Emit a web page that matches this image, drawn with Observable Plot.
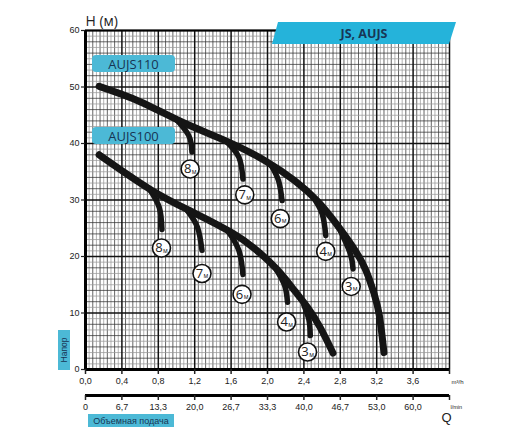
<!DOCTYPE html>
<html>
<head>
<meta charset="utf-8">
<script src="https://cdn.jsdelivr.net/npm/d3@7"></script>
<script src="https://cdn.jsdelivr.net/npm/@observablehq/plot@0.6"></script>
<style>
  body { margin: 0; background: #fff; }
  #wrap { position: relative; width: 512px; height: 441px; }
  .tag {
    position: absolute; background: #4cb9d6; color: #173453;
    font-family: "Open Sans", sans-serif; display: flex;
    align-items: center; justify-content: center; white-space: nowrap;
  }
</style>
</head>
<body>
<div id="wrap">
  <div id="chart"></div>
  <div class="tag" id="banner" style="left:272px;top:22px;width:184px;height:22px;background:#25b3da;clip-path:polygon(6px 0,100% 0,calc(100% - 7px) 100%,0 100%);font-weight:700;font-size:12.5px;color:#183655;">JS, AUJS</div>
  <div class="tag" style="left:92px;top:55px;width:83px;height:17px;border-radius:4px;font-size:13px;">AUJS110</div>
  <div class="tag" style="left:92px;top:127px;width:83px;height:17px;border-radius:4px;font-size:13px;">AUJS100</div>
  <div class="tag" style="left:88px;top:414px;width:86px;height:13px;font-size:9px;font-family:'Liberation Sans',sans-serif;">Объемная подача</div>
  <div class="tag" style="left:58px;top:330px;width:12px;height:40px;font-size:8.5px;font-family:'Liberation Sans',sans-serif;"><span style="transform:rotate(-90deg);display:inline-block;">Напор</span></div>
</div>
<script>
// main curves Q (m3/h) / H (m)
const q110 = [0.15, 0.6, 1.06, 1.58, 2.0, 2.3, 2.55, 2.75, 2.95, 3.08, 3.17, 3.23, 3.28];
const h110 = [50.1, 47.4, 43.8, 40.2, 36.7, 33.4, 29.8, 25.9, 21.4, 17.6, 13.5, 9.5, 3.0];
const q100 = [0.15, 0.73, 1.21, 1.61, 1.85, 2.1, 2.3, 2.44, 2.58, 2.72];
const h100 = [38.0, 31.7, 27.6, 24.2, 21.5, 17.8, 13.9, 11.0, 7.4, 2.9];

// suction depth branches
const depths = ["8", "7", "6", "4", "3"];
const b110q = [[0.99, 1.135, 1.17], [1.54, 1.685, 1.73], [2.03, 2.12, 2.16], [2.49, 2.60, 2.64], [2.80, 2.91, 2.94]];
const b110h = [[44.4, 41.4, 38.5], [40.5, 37.6, 33.7], [36.4, 33.5, 29.9], [30.8, 27.6, 23.7], [24.6, 20.5, 17.8]];
const lab110q = [1.15, 1.75, 2.14, 2.64, 2.92];
const lab110h = [35.5, 30.9, 26.7, 20.9, 14.7];
const b100q = [[0.70, 0.81, 0.84], [1.12, 1.23, 1.28], [1.56, 1.685, 1.73], [2.10, 2.19, 2.22], [2.40, 2.455, 2.47]];
const b100h = [[32.0, 28.7, 24.8], [28.1, 25.2, 21.1], [24.6, 21.1, 16.8], [17.6, 14.8, 11.9], [11.4, 8.8, 6.0]];
const lab100q = [0.835, 1.28, 1.72, 2.21, 2.44];
const lab100h = [21.5, 17.0, 13.3, 8.4, 3.1];

// ticks
const xTicks = [0, 0.4, 0.8, 1.2, 1.6, 2.0, 2.4, 2.8, 3.2, 3.6, 4.0];
const xLabels = ["0,0", "0,4", "0,8", "1,2", "1,6", "2,0", "2,4", "2,8", "3,2", "3,6", ""];
const lminLabels = ["0", "6,7", "13,3", "20,0", "26,7", "33,3", "40,0", "46,7", "53,0", "60,0", ""];
const yTicks = [0, 10, 20, 30, 40, 50, 60];

const xMap = new Map(xTicks.map((d, i) => [d, xLabels[i]]));
const lMap = new Map(xTicks.map((d, i) => [d, lminLabels[i]]));

const mainRows = [
  ...q110.map((q, i) => ({s: "AUJS110", q, h: h110[i]})),
  ...q100.map((q, i) => ({s: "AUJS100", q, h: h100[i]}))
];
const branchRows = [];
const labelRows = [];
depths.forEach((d, k) => {
  b110q[k].forEach((q, i) => branchRows.push({s: "110-" + d, q, h: b110h[k][i]}));
  b100q[k].forEach((q, i) => branchRows.push({s: "100-" + d, q, h: b100h[k][i]}));
  labelRows.push({d, q: lab110q[k], h: lab110h[k]});
  labelRows.push({d, q: lab100q[k], h: lab100h[k]});
});

const minorX = d3.range(1, 100).map(i => i * 0.04).filter((d, i) => (i + 1) % 10 !== 0);
const minorY = d3.range(1, 60).filter(d => d % 10 !== 0);

const chart = Plot.plot({
  width: 512,
  height: 441,
  marginLeft: 85,
  marginRight: 63,
  marginTop: 30,
  marginBottom: 72,
  style: {fontFamily: "Liberation Sans, Arial, sans-serif", fontSize: "9px", color: "#222"},
  x: {domain: [0, 4], label: null},
  y: {domain: [0, 60], label: null},
  marks: [
    // grid
    Plot.ruleX(minorX, {stroke: (d, i) => (i % 2 === 1 ? "#333" : "#999"), strokeWidth: 0.75}),
    Plot.ruleY(minorY, {stroke: d => (d % 2 === 0 ? "#333" : "#999"), strokeWidth: 0.75}),
    Plot.ruleX(xTicks, {stroke: "#111", strokeWidth: 1.5}),
    Plot.ruleY(yTicks, {stroke: "#111", strokeWidth: 1.5}),
    Plot.ruleX([0], {stroke: "#000", strokeWidth: 3}),
    Plot.ruleY([0], {stroke: "#000", strokeWidth: 3}),
    Plot.ruleY([60], {stroke: "#000", strokeWidth: 2}),
    // axes
    Plot.axisY(yTicks, {anchor: "left", label: null, tickSize: 4, tickPadding: 2, strokeWidth: 1.2}),
    Plot.axisX(xTicks, {anchor: "bottom", label: null, tickSize: 5, tickPadding: 3, strokeWidth: 1.5, tickFormat: d => xMap.get(d)}),
    Plot.ruleY([0], {dy: 26, stroke: "#000", strokeWidth: 3}),
    Plot.axisX(xTicks, {anchor: "bottom", label: null, dy: 26, tickSize: 5, tickPadding: 3, strokeWidth: 1.5, tickFormat: d => lMap.get(d)}),
    Plot.text(["m³/h"], {x: 4, frameAnchor: "bottom", dy: 14, dx: 2, textAnchor: "start", fontSize: 6}),
    Plot.text(["l/min"], {x: 4, frameAnchor: "bottom", dy: 39, dx: 1, textAnchor: "start", fontSize: 5.5}),
    Plot.text(["Q"], {x: 4, frameAnchor: "bottom", dy: 52, dx: -3, fontSize: 13}),
    Plot.text(["H (м)"], {frameAnchor: "top-left", dy: -14, textAnchor: "start", fontSize: 14, fontFamily: "Open Sans"}),
    // curves
    Plot.line(branchRows, {x: "q", y: "h", z: "s", curve: "natural", stroke: "#151515", strokeWidth: 5.5, strokeLinecap: "round"}),
    Plot.line(mainRows, {x: "q", y: "h", z: "s", curve: "natural", stroke: "#151515", strokeWidth: 7, strokeLinecap: "round"}),
    // depth labels
    Plot.dot(labelRows, {x: "q", y: "h", r: 9, fill: "white", stroke: "#111", strokeWidth: 1.6}),
    Plot.text(labelRows, {x: "q", y: "h", text: "d", dx: -2.5, fontSize: 13, fontFamily: "Open Sans"}),
    Plot.text(labelRows, {x: "q", y: "h", text: () => "м", dx: 4, dy: 2.5, fontSize: 6.5, fontFamily: "Open Sans"})
  ]
});

d3.select("#chart").append(() => chart);
</script>
</body>
</html>
